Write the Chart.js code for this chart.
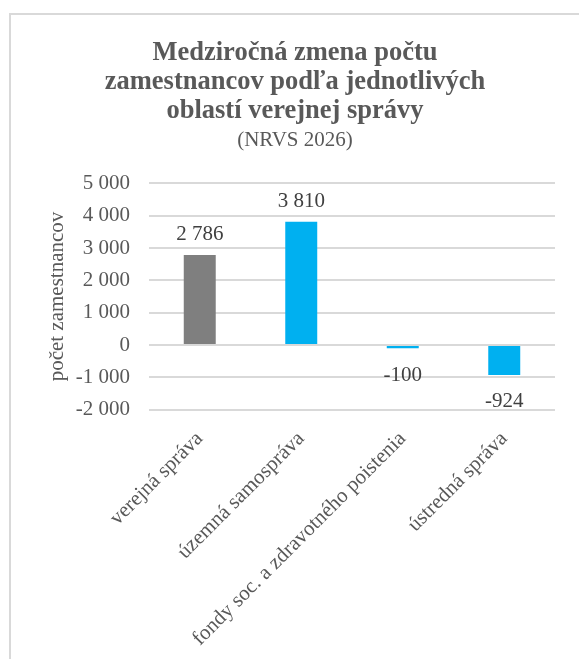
<!DOCTYPE html>
<html>
<head>
<meta charset="utf-8">
<script src="https://cdn.jsdelivr.net/npm/chart.js@4.4.1/dist/chart.umd.min.js"></script>
<style>
  html, body { margin: 0; padding: 0; background: #ffffff; overflow: hidden; }
  #frame { position: absolute; left: 9px; top: 13px; width: 700px; height: 800px;
           border-left: 2px solid #d9d9d9; border-top: 2px solid #d9d9d9; }
  #wrap { position: absolute; left: 0; top: 0; width: 579px; height: 659px; }
</style>
</head>
<body>
<div id="frame"></div>
<div id="wrap"><canvas id="c" width="579" height="659"></canvas></div>
<script>
// ---- data ----
const categories = ['verejná správa', 'územná samospráva', 'fondy soc. a zdravotného poistenia', 'ústredná správa'];
const values = [2786, 3810, -100, -924];
const barColors = ['#7f7f7f', '#00b0f0', '#00b0f0', '#00b0f0'];
const titleLines = ['Medziročná zmena počtu', 'zamestnancov podľa jednotlivých', 'oblastí verejnej správy'];
const subtitleText = '(NRVS 2026)';
const yAxisTitle = 'počet zamestnancov';
const yMin = -2000, yMax = 5000, yStep = 1000;

function fmt(v) {
  const s = String(Math.abs(Math.round(v))).replace(/\B(?=(\d{3})+(?!\d))/g, ' ');
  return (v < 0 ? '-' : '') + s;
}

const FONT = "'Liberation Serif', 'Times New Roman', serif";

const valueLabels = {
  id: 'valueLabels',
  afterDatasetsDraw(chart) {
    const ctx = chart.ctx;
    const meta = chart.getDatasetMeta(0);
    ctx.save();
    ctx.font = '21px ' + FONT;
    ctx.fillStyle = '#404040';
    ctx.textAlign = 'center';
    ctx.textBaseline = 'alphabetic';
    meta.data.forEach((bar, i) => {
      const v = chart.data.datasets[0].data[i];
      const y = v >= 0 ? bar.y - 15 : bar.y + 32.5;
      ctx.fillText(fmt(v), bar.x, y);
    });
    ctx.restore();
  }
};

new Chart(document.getElementById('c'), {
  type: 'bar',
  data: {
    labels: categories,
    datasets: [{
      data: values,
      backgroundColor: barColors,
      borderWidth: 0,
      categoryPercentage: 1,
      barPercentage: 0.315
    }]
  },
  options: {
    responsive: false,
    animation: false,
    devicePixelRatio: 1,
    layout: { padding: { left: 35, right: 24, top: 0, bottom: 0 } },
    plugins: {
      legend: { display: false },
      tooltip: { enabled: false },
      title: {
        display: true,
        text: titleLines,
        color: '#595959',
        font: { family: FONT, size: 26.5, weight: 'bold', lineHeight: 1.1 },
        padding: { top: 38.5, bottom: 0 }
      },
      subtitle: {
        display: true,
        text: subtitleText,
        color: '#595959',
        font: { family: FONT, size: 21, weight: 'normal', lineHeight: 1.2 },
        padding: { top: 2, bottom: 30.2 }
      }
    },
    scales: {
      x: {
        grid: { display: false },
        border: { display: false },
        ticks: {
          color: '#595959',
          font: { family: FONT, size: 21 },
          minRotation: 45,
          maxRotation: 45,
          autoSkip: false,
          padding: 9
        },
        afterFit(scale) { scale.height = 249.3; }
      },
      y: {
        min: yMin,
        max: yMax,
        border: { display: false },
        grid: { color: '#d9d9d9', lineWidth: 2, drawTicks: false },
        ticks: {
          stepSize: yStep,
          color: '#595959',
          font: { family: FONT, size: 21 },
          padding: 19,
          callback: (v) => fmt(v)
        },
        title: {
          display: true,
          text: yAxisTitle,
          color: '#595959',
          font: { family: FONT, size: 21 },
          padding: { top: 9.5, bottom: 0 }
        },
        afterFit(scale) { scale.width = 114; }
      }
    }
  },
  plugins: [valueLabels]
});
</script>
</body>
</html>
